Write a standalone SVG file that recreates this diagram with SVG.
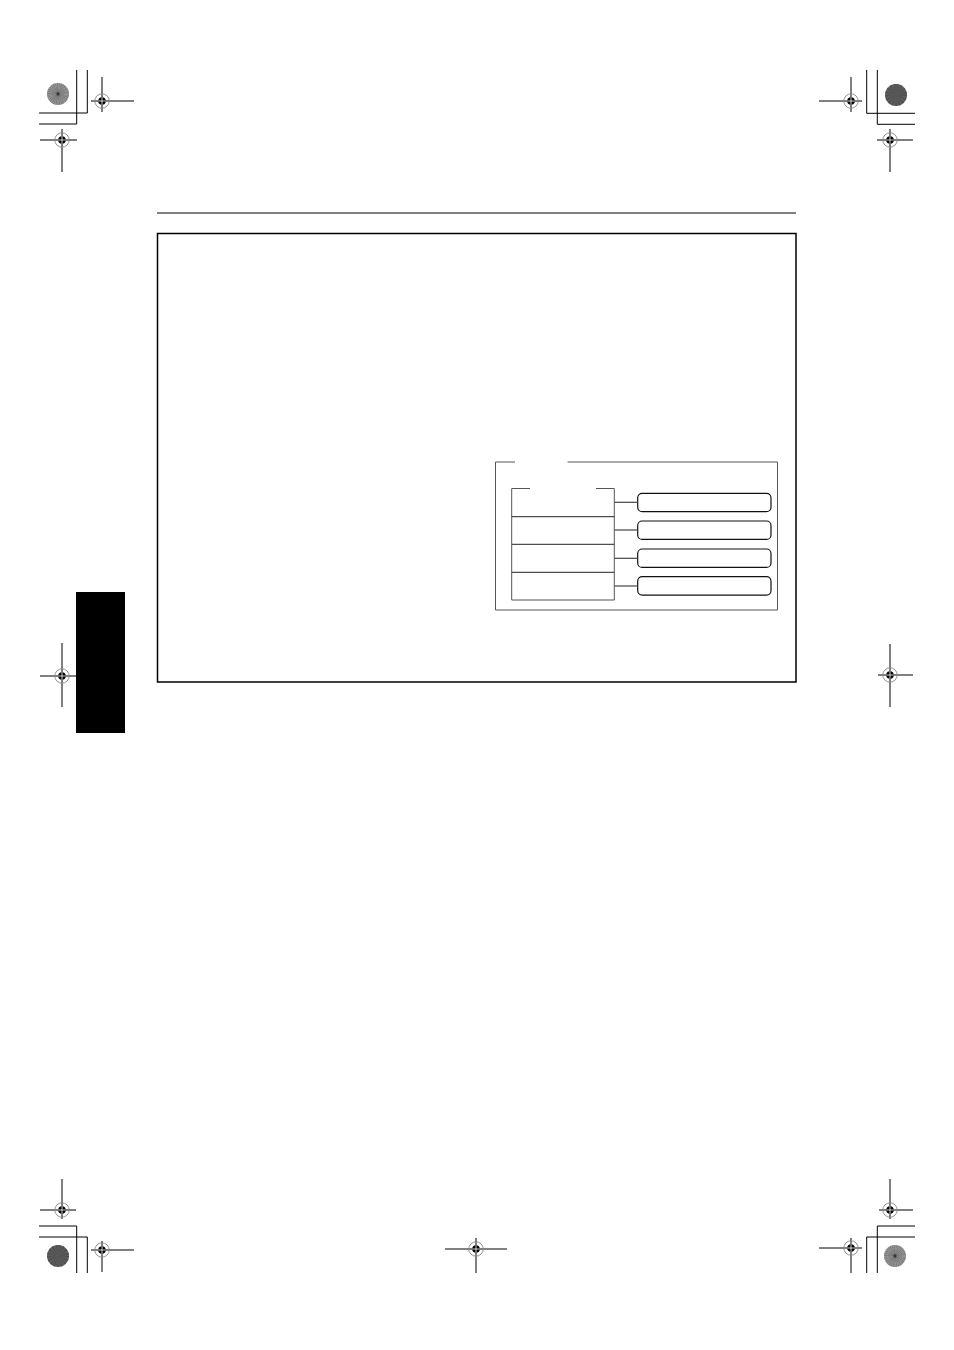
<svg xmlns="http://www.w3.org/2000/svg" width="954" height="1350" viewBox="0 0 954 1350">
<style>
.k{stroke:#000;stroke-width:1;fill:none}
.frame{stroke:#000;stroke-width:1.5;fill:none}
.thin{stroke:#555;stroke-width:1;fill:none}
.cell{stroke:#222;stroke-width:1;fill:none}
.pill{stroke:#111;stroke-width:1.2;fill:#fff}
.conn{stroke:#444;stroke-width:1.2;fill:none}
</style>
<defs>
<radialGradient id="sg">
<stop offset="0" stop-color="#333"/>
<stop offset="0.3" stop-color="#6e6e6e"/>
<stop offset="1" stop-color="#7c7c7c"/>
</radialGradient>
<g id="reg">
<circle r="7.2" fill="none" stroke="#888" stroke-width="0.9"/>
<circle r="3.8" fill="#000"/>
<path d="M-3.8 0H3.8M0 -3.8V3.8" stroke="#fff" stroke-width="0.8"/>
</g>
<g id="sun">
<circle r="11" fill="url(#sg)"/>
<circle r="5.5" fill="none" stroke="#b4b4b4" stroke-width="11" stroke-dasharray="0.4 0.7" opacity="0.75"/>
<circle r="7.5" fill="none" stroke="#999" stroke-width="0.6" opacity="0.6"/>
<circle r="1.4" fill="#333"/>
</g>
<g id="dark">
<circle r="11" fill="#5c5c5c"/>
<circle r="5.5" fill="none" stroke="#4e4e4e" stroke-width="11" stroke-dasharray="0.7 1.3"/>
</g>
</defs>
<rect width="954" height="1350" fill="#fff"/>

<g id="crop-marks">
<!-- top-left -->
<path class="k" d="M76.7 70V124H39M87.3 70V113H39"/>
<use href="#sun" x="58" y="94"/>
<path class="k" d="M91 101H134M102 77V112"/><use href="#reg" x="102" y="101"/>
<path class="k" d="M40 140H77M62 129V172"/><use href="#reg" x="62" y="140"/>
<!-- top-right -->
<path class="k" d="M866.7 70V113.3H915M877.3 70V124.3H915"/>
<use href="#dark" x="896" y="95"/>
<path class="k" d="M819 101H862M851 77V112"/><use href="#reg" x="851" y="101"/>
<path class="k" d="M877 140H913M890 129V172"/><use href="#reg" x="890" y="140"/>
<!-- middle -->
<path class="k" d="M40 676H76M62 643V707"/><use href="#reg" x="62" y="676"/>
<path class="k" d="M878 675H913M890 644V707"/><use href="#reg" x="890" y="675"/>
<!-- bottom-left -->
<path class="k" d="M40 1210H76M62 1179V1219"/><use href="#reg" x="62" y="1210"/>
<path class="k" d="M39 1226H76.7V1273M39 1237H87.3V1273"/>
<use href="#dark" x="58" y="1256"/>
<path class="k" d="M91 1250H134M102 1241V1272"/><use href="#reg" x="102" y="1250"/>
<!-- bottom-center -->
<path class="k" d="M445 1249H507M476 1238V1273"/><use href="#reg" x="476" y="1249"/>
<!-- bottom-right -->
<path class="k" d="M879 1210H913M890 1179V1219"/><use href="#reg" x="890" y="1210"/>
<path class="k" d="M915 1226H877.3V1273M915 1237H866.7V1273"/>
<use href="#sun" x="895" y="1256"/>
<path class="k" d="M819 1248H862M851 1238V1273"/><use href="#reg" x="851" y="1248"/>
</g>

<g id="side-tab"><rect x="76" y="592" width="49" height="141" fill="#000"/></g>

<g id="page-frame">
<line class="k" x1="157" y1="213" x2="796" y2="213"/>
<rect class="frame" x="157.5" y="233.5" width="638.5" height="448.5"/>
</g>

<g id="panel">
<path class="thin" d="M515 462H495.5V610H777.5V462H567.5"/>
</g>

<g id="stack">
<g id="cell-1"><path class="thin" d="M530 488.5H511.7V517M596 488.5H614.3V517"/><line class="cell" x1="511.7" y1="516.7" x2="614.3" y2="516.7"/></g>
<g id="cell-2"><path class="thin" d="M511.7 517V544M614.3 517V544"/><line class="cell" x1="511.7" y1="544.3" x2="614.3" y2="544.3"/></g>
<g id="cell-3"><path class="thin" d="M511.7 544V572M614.3 544V572"/><line class="cell" x1="511.7" y1="572.3" x2="614.3" y2="572.3"/></g>
<g id="cell-4"><path class="thin" d="M511.7 572V600H614.3V572"/></g>
</g>

<g id="box-1"><rect class="pill" x="637.7" y="493.3" width="133.3" height="18.4" rx="4.5"/></g>
<g id="box-2"><rect class="pill" x="637.7" y="521" width="133.3" height="18.4" rx="4.5"/></g>
<g id="box-3"><rect class="pill" x="637.7" y="549" width="133.3" height="18.4" rx="4.5"/></g>
<g id="box-4"><rect class="pill" x="637.7" y="576.7" width="133.3" height="18.4" rx="4.5"/></g>

<g id="connectors">
<line class="conn" x1="614.3" y1="502.3" x2="637.7" y2="502.3"/>
<line class="conn" x1="614.3" y1="530" x2="637.7" y2="530"/>
<line class="conn" x1="614.3" y1="558.3" x2="637.7" y2="558.3"/>
<line class="conn" x1="614.3" y1="586" x2="637.7" y2="586"/>
</g>
</svg>
